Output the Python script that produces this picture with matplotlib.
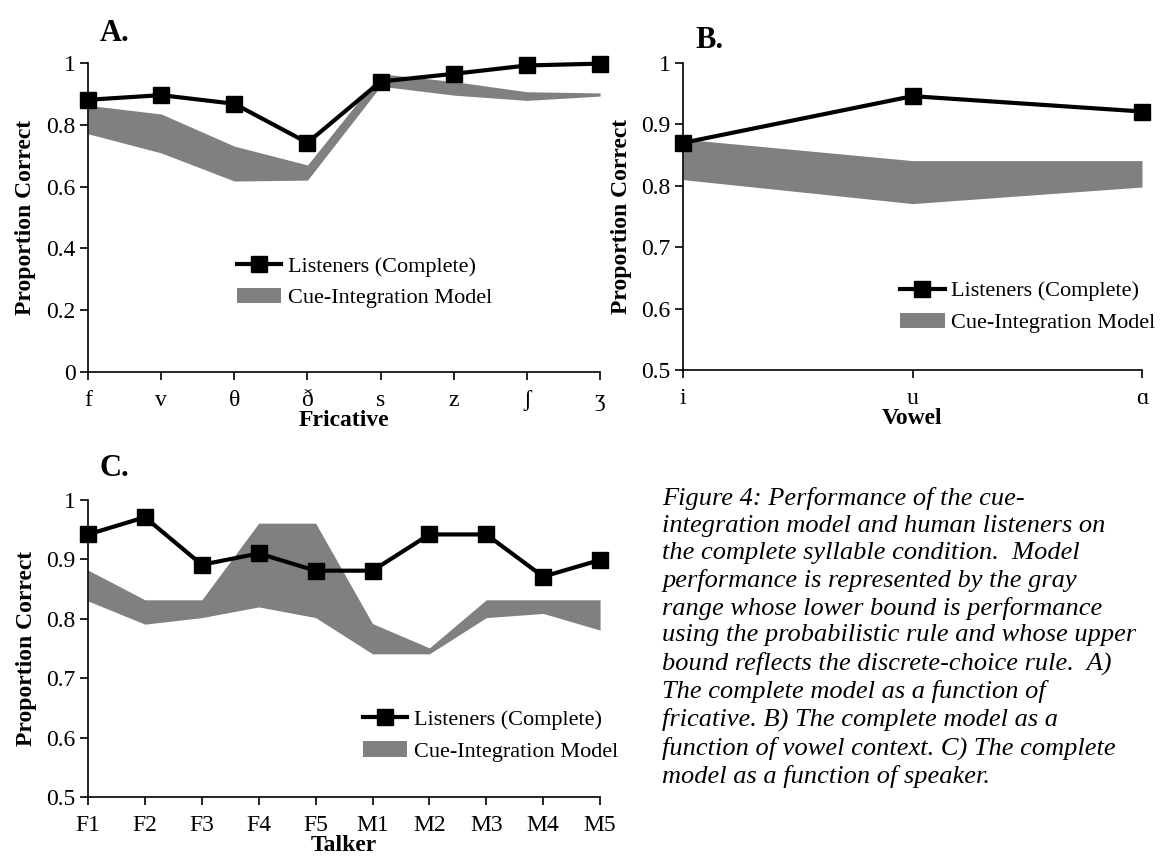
import numpy as np
import matplotlib.pyplot as plt
from matplotlib.patches import Patch
from matplotlib.lines import Line2D

plt.rcParams['font.family'] = ['Liberation Serif', 'DejaVu Serif']

# panel A: fricatives
fricatives = ["f", "v", "θ", "ð", "s", "z", "ʃ", "ʒ"]
fric_listeners = [0.881, 0.896, 0.868, 0.742, 0.940, 0.965, 0.992, 0.998]
fric_model_hi = [0.863, 0.835, 0.731, 0.670, 0.965, 0.940, 0.907, 0.903]
fric_model_lo = [0.771, 0.709, 0.618, 0.621, 0.925, 0.896, 0.879, 0.893]

# panel B: vowels
vowels = ["i", "u", "ɑ"]
vowel_listeners = [0.870, 0.946, 0.921]
vowel_model_hi = [0.876, 0.841, 0.841]
vowel_model_lo = [0.810, 0.771, 0.798]

# panel C: talkers
talkers = ["F1", "F2", "F3", "F4", "F5", "M1", "M2", "M3", "M4", "M5"]
talker_listeners = [0.942, 0.971, 0.891, 0.910, 0.881, 0.881, 0.942, 0.942, 0.871, 0.899]
talker_model_hi = [0.882, 0.832, 0.832, 0.961, 0.961, 0.792, 0.751, 0.832, 0.832, 0.832]
talker_model_lo = [0.830, 0.791, 0.802, 0.820, 0.802, 0.741, 0.741, 0.802, 0.809, 0.781]

caption = ("Figure 4: Performance of the cue-\n"
           "integration model and human listeners on\n"
           "the complete syllable condition.  Model\n"
           "performance is represented by the gray\n"
           "range whose lower bound is performance\n"
           "using the probabilistic rule and whose upper\n"
           "bound reflects the discrete-choice rule.  A)\n"
           "The complete model as a function of\n"
           "fricative. B) The complete model as a\n"
           "function of vowel context. C) The complete\n"
           "model as a function of speaker.")

GRAY = "#808080"

fig = plt.figure(figsize=(11.6, 8.56), dpi=100)
axA = fig.add_axes([0.0759, 0.5654, 0.4414, 0.3610])
axB = fig.add_axes([0.5888, 0.5678, 0.3957, 0.3586])
axC = fig.add_axes([0.0759, 0.0689, 0.4414, 0.3470])


def draw_panel(ax, cats, listeners, lo, hi, ylim, yticks, yticklabels,
               xlabel, letter, letter_pos, leg_anchor):
    x = np.arange(len(cats))
    ax.fill_between(x, lo, hi, color=GRAY, linewidth=0)
    ax.plot(x, listeners, color="black", linewidth=3, marker="s",
            markersize=12, markerfacecolor="black", markeredgecolor="black",
            clip_on=False, zorder=5)
    ax.set_xlim(0, len(cats) - 1)
    ax.set_ylim(*ylim)
    ax.set_yticks(yticks)
    ax.set_yticklabels(yticklabels, fontsize=17)
    ax.set_xticks(x)
    ax.set_xticklabels(cats, fontsize=17)
    ax.tick_params(axis="both", direction="out", length=6, width=1.2, pad=3)
    ax.tick_params(axis="x", pad=7)
    for s in ["top", "right"]:
        ax.spines[s].set_visible(False)
    for s in ["left", "bottom"]:
        ax.spines[s].set_linewidth(1.2)
    ax.set_xlabel(xlabel, fontsize=17, fontweight="bold", labelpad=-1)
    ax.set_ylabel("Proportion Correct", fontsize=17, fontweight="bold",
                  labelpad=7)
    ax.text(letter_pos[0], letter_pos[1], letter, transform=ax.transAxes,
            fontsize=22, fontweight="bold", ha="left", va="baseline")
    handles = [Line2D([0], [0], color="black", linewidth=3, marker="s",
                      markersize=12),
               Patch(facecolor=GRAY, edgecolor="none")]
    ax.legend(handles, ["Listeners (Complete)", "Cue-Integration Model"],
              loc="upper left", bbox_to_anchor=leg_anchor, frameon=False,
              fontsize=16, handlelength=2.0, handleheight=0.7,
              handletextpad=0.3, labelspacing=0.5, borderpad=0,
              borderaxespad=0)


draw_panel(axA, fricatives, fric_listeners, fric_model_lo, fric_model_hi,
           (0, 1), [0, 0.2, 0.4, 0.6, 0.8, 1], ["0", "0.2", "0.4", "0.6", "0.8", "1"],
           "Fricative", "A.", (0.023, 1.07), (0.291, 0.375))
draw_panel(axB, vowels, vowel_listeners, vowel_model_lo, vowel_model_hi,
           (0.5, 1), [0.5, 0.6, 0.7, 0.8, 0.9, 1], ["0.5", "0.6", "0.7", "0.8", "0.9", "1"],
           "Vowel", "B.", (0.026, 1.05), (0.473, 0.290))
draw_panel(axC, talkers, talker_listeners, talker_model_lo, talker_model_hi,
           (0.5, 1), [0.5, 0.6, 0.7, 0.8, 0.9, 1], ["0.5", "0.6", "0.7", "0.8", "0.9", "1"],
           "Talker", "C.", (0.023, 1.08), (0.537, 0.295))

fig.text(0.571, 0.431, caption, fontsize=19, style="italic", ha="left",
         va="top", linespacing=1.28)

plt.savefig("out.png", dpi=100)
